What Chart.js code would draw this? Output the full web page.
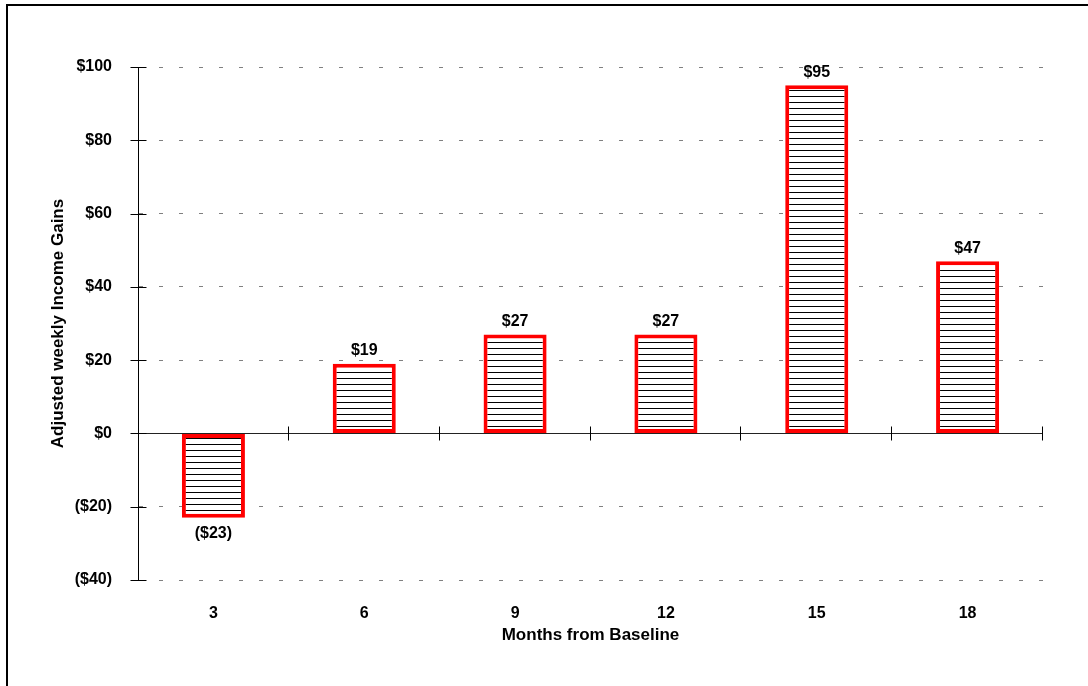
<!DOCTYPE html>
<html>
<head>
<meta charset="utf-8">
<title>Adjusted weekly Income Gains</title>
<script src="https://cdn.jsdelivr.net/npm/chart.js@4/dist/chart.umd.min.js"></script>
<style>
    html, body { margin: 0; padding: 0; background: #fff; overflow: hidden; }
    #wrap { position: relative; width: 1088px; height: 686px; }
    #frame {
        position: absolute; left: 6px; top: 4px;
        width: 1200px; height: 800px;
        border: 2px solid #000; pointer-events: none;
    }
    canvas { position: absolute; left: 0; top: 0; }
</style>
</head>
<body>
<div id="wrap">
    <canvas id="incomeChart" width="1088" height="686"></canvas>
    <div id="frame"></div>
</div>
<script>
// Data
const months = ['3', '6', '9', '12', '15', '18'];
const incomeGains = [-23, 19, 27, 27, 95, 47];
const yMin = -40;
const yMax = 100;
const yStep = 20;

// Money formatting, negatives in parentheses
function money(v) {
    return v < 0 ? `($${-v})` : `$${v}`;
}

// Hatched fill: white with thin horizontal black lines
function makeHatch() {
    const c = document.createElement('canvas');
    c.width = 6;
    c.height = 6;
    const g = c.getContext('2d');
    g.fillStyle = '#fff';
    g.fillRect(0, 0, 6, 6);
    g.fillStyle = '#000';
    g.fillRect(0, 0, 6, 1);
    return g.createPattern(c, 'repeat');
}

// Tick marks across the axes and value labels on bars
const marksPlugin = {
    id: 'marks',
    afterDatasetsDraw(chart) {
        const ctx = chart.ctx;
        const x = chart.scales.x;
        const y = chart.scales.y;
        const y0 = Math.round(y.getPixelForValue(0)) + 0.5;
        const axisX = Math.round(chart.chartArea.left) + 0.5;

        ctx.save();
        ctx.strokeStyle = '#000';
        ctx.lineWidth = 1;
        ctx.beginPath();
        // y ticks crossing the vertical axis
        y.ticks.forEach(t => {
            const py = Math.round(y.getPixelForValue(t.value)) + 0.5;
            ctx.moveTo(axisX - 8, py);
            ctx.lineTo(axisX + 8, py);
        });
        // x ticks at the category boundaries on the zero line
        for (let i = 0; i < months.length; i++) {
            let px;
            if (i < months.length - 1) {
                px = (x.getPixelForValue(i) + x.getPixelForValue(i + 1)) / 2;
            } else {
                px = x.right;
            }
            px = Math.round(px) - 0.5;
            ctx.moveTo(px, y0 - 7);
            ctx.lineTo(px, y0 + 7);
        }
        ctx.stroke();

        // value labels
        ctx.fillStyle = '#000';
        ctx.font = 'bold 16px Arial, "Liberation Sans", sans-serif';
        ctx.textAlign = 'center';
        ctx.textBaseline = 'middle';
        const meta = chart.getDatasetMeta(0);
        meta.data.forEach((bar, i) => {
            const v = incomeGains[i];
            const ly = v < 0 ? bar.y + 16 : bar.y - 13;
            ctx.fillText(money(v), bar.x, ly);
        });
        ctx.restore();
    }
};

const ctx = document.getElementById('incomeChart').getContext('2d');
Chart.defaults.font.family = 'Arial, "Liberation Sans", sans-serif';
Chart.defaults.color = '#000';

new Chart(ctx, {
    type: 'bar',
    data: {
        labels: months,
        datasets: [{
            data: incomeGains,
            backgroundColor: makeHatch(),
            borderColor: '#ff0000',
            borderWidth: 4,
            borderSkipped: false,
            categoryPercentage: 1,
            barPercentage: 0.418
        }]
    },
    options: {
        responsive: false,
        animation: false,
        layout: {
            padding: { top: 67, right: 45, left: 0, bottom: 0 }
        },
        plugins: {
            legend: { display: false },
            tooltip: { enabled: false }
        },
        scales: {
            x: {
                grid: { display: false, drawTicks: false },
                border: { display: false },
                ticks: {
                    padding: 24,
                    font: { size: 16, weight: 'bold' }
                },
                title: {
                    display: true,
                    text: 'Months from Baseline',
                    font: { size: 17, weight: 'bold' },
                    padding: { top: 0, bottom: 40 }
                },
                afterFit(scale) {
                    scale.height = 106;
                }
            },
            y: {
                min: yMin,
                max: yMax,
                grid: {
                    drawTicks: false,
                    color: c => c.tick && c.tick.value === 0 ? '#222' : '#808080',
                    lineWidth: 1
                },
                border: {
                    display: true,
                    color: '#000',
                    width: 1,
                    dash: c => c.tick && c.tick.value === 0 ? [] : [4, 16]
                },
                ticks: {
                    stepSize: yStep,
                    padding: 26,
                    font: { size: 16, weight: 'bold' },
                    callback: v => money(v)
                },
                title: {
                    display: true,
                    text: 'Adjusted weekly Income Gains',
                    font: { size: 17, weight: 'bold' },
                    padding: { top: 48, bottom: 0 }
                },
                afterFit(scale) {
                    scale.width = 138;
                }
            }
        }
    },
    plugins: [marksPlugin]
});
</script>
</body>
</html>
